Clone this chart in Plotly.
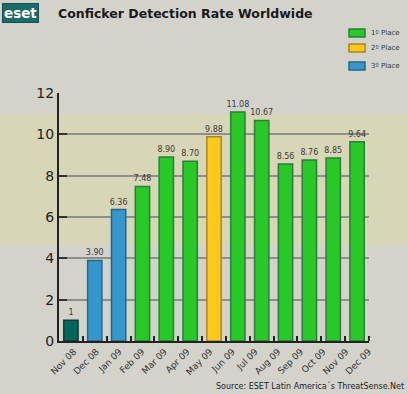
import plotly.graph_objects as go

months = ["Nov 08", "Dec 08", "Jan 09", "Feb 09", "Mar 09", "Apr 09", "May 09",
          "Jun 09", "Jul 09", "Aug 09", "Sep 09", "Oct 09", "Nov 09", "Dec 09"]
rates = [1, 3.90, 6.36, 7.48, 8.90, 8.70, 9.88, 11.08, 10.67, 8.56, 8.76, 8.85, 9.64]
rate_labels = ["1", "3.90", "6.36", "7.48", "8.90", "8.70", "9.88",
               "11.08", "10.67", "8.56", "8.76", "8.85", "9.64"]
place = ["other", "3rd", "3rd", "1st", "1st", "1st", "2nd",
         "1st", "1st", "1st", "1st", "1st", "1st"]
y_ticks = [0, 2, 4, 6, 8, 10, 12]

styles = {
    "1st": ("1º Place", "#27c927", "#2e7d3a"),
    "2nd": ("2º Place", "#ffc81a", "#a8862a"),
    "3rd": ("3º Place", "#3598cc", "#2a6585"),
    "other": ("", "#02665a", "#0b3d36"),
}

# plot area in pixels
L, R, T, B, W, H = 59, 39, 93, 53, 408, 394
pw, ph = W - L - R, H - T - B
def px(x): return (x - L) / pw
def py(y): return (H - B - y) / ph

xs = list(range(len(rates)))
fig = go.Figure()
for key in ["1st", "2nd", "3rd", "other"]:
    name, fill, line = styles[key]
    yv = [r if p == key else None for r, p in zip(rates, place)]
    tv = [t if p == key else "" for t, p in zip(rate_labels, place)]
    fig.add_trace(go.Bar(
        x=xs, y=yv, name=name, showlegend=False,
        marker=dict(color=fill, line=dict(color=line, width=1.5)),
        text=tv, textposition="outside", cliponaxis=False, constraintext="none",
        textfont=dict(family="DejaVu Sans", size=8, color="#3a3a3a"),
        width=0.6,
    ))

n = len(months)
first, last = 0.12, 12.48
label_pos = [first + i * (last - first) / (n - 1) for i in range(n)]

shapes = [dict(type="rect", xref="paper", yref="paper", x0=-0.2, x1=1.2,
               y0=0.387, y1=0.915, fillcolor="rgba(230,226,120,0.24)",
               line=dict(width=0), layer="below")]
annotations = [
    dict(text="<b>Conficker Detection Rate Worldwide</b>", xref="paper",
         yref="paper", x=px(56), y=py(13), xanchor="left", yanchor="middle",
         showarrow=False, font=dict(size=12.5, color="#1a1a1a", family="DejaVu Sans")),
    dict(text="<b>eset</b>", xref="paper", yref="paper", x=px(2), y=py(13),
         xanchor="left", yanchor="middle", showarrow=False,
         bgcolor="#1d6a6a", bordercolor="#14504f", borderpad=1, borderwidth=1,
         font=dict(size=13.5, color="#ffffff", family="DejaVu Sans")),
    dict(text="Source: ESET Latin America´s ThreatSense.Net", xref="paper",
         yref="paper", x=px(406), y=py(386), xanchor="right", yanchor="middle",
         showarrow=False, font=dict(size=8, color="#222222", family="DejaVu Sans")),
]
for key, yc in [("1st", 33), ("2nd", 48), ("3rd", 66)]:
    name, fill, line = styles[key]
    shapes.append(dict(type="rect", xref="paper", yref="paper",
                       x0=px(349), x1=px(365), y0=py(yc + 4), y1=py(yc - 4),
                       fillcolor=fill, line=dict(color=line, width=1.5)))
    annotations.append(dict(text=name, xref="paper", yref="paper", x=px(369),
                            y=py(yc), xanchor="left", yanchor="middle",
                            showarrow=False,
                            font=dict(size=7, color="#333333", family="DejaVu Sans")))

fig.update_layout(
    width=W, height=H,
    margin=dict(l=L, r=R, t=T, b=B, autoexpand=False),
    paper_bgcolor="#d3d3cb",
    plot_bgcolor="rgba(0,0,0,0)",
    barmode="overlay",
    showlegend=False,
    font=dict(family="DejaVu Sans", color="#222222"),
    xaxis=dict(
        range=[-0.5, 12.5], showgrid=False, zeroline=False, automargin=False,
        tickmode="array", tickvals=label_pos, ticktext=months,
        tickangle=-45, ticklen=0, ticks="",
        tickfont=dict(size=9, color="#333333", family="DejaVu Sans"),
        showline=True, linecolor="#222222", linewidth=2,
        minor=dict(tickmode="array", tickvals=[i + 0.5 for i in xs],
                   ticks="inside", ticklen=5, tickcolor="#222222", tickwidth=2),
    ),
    yaxis=dict(
        range=[0, 12], tickvals=y_ticks, ticks="inside", ticklen=8,
        tickcolor="#333333", tickwidth=2, automargin=False,
        tickfont=dict(size=14, color="#222222", family="DejaVu Sans"),
        showgrid=True, gridcolor="#8f8f8a", gridwidth=1.5,
        zeroline=False, showline=True, linecolor="#222222", linewidth=2,
    ),
    shapes=shapes,
    annotations=annotations,
)

fig.write_html("out.html", config={"displayModeBar": False},
               post_script="document.body.style.margin='0';document.body.style.overflow='hidden';")
